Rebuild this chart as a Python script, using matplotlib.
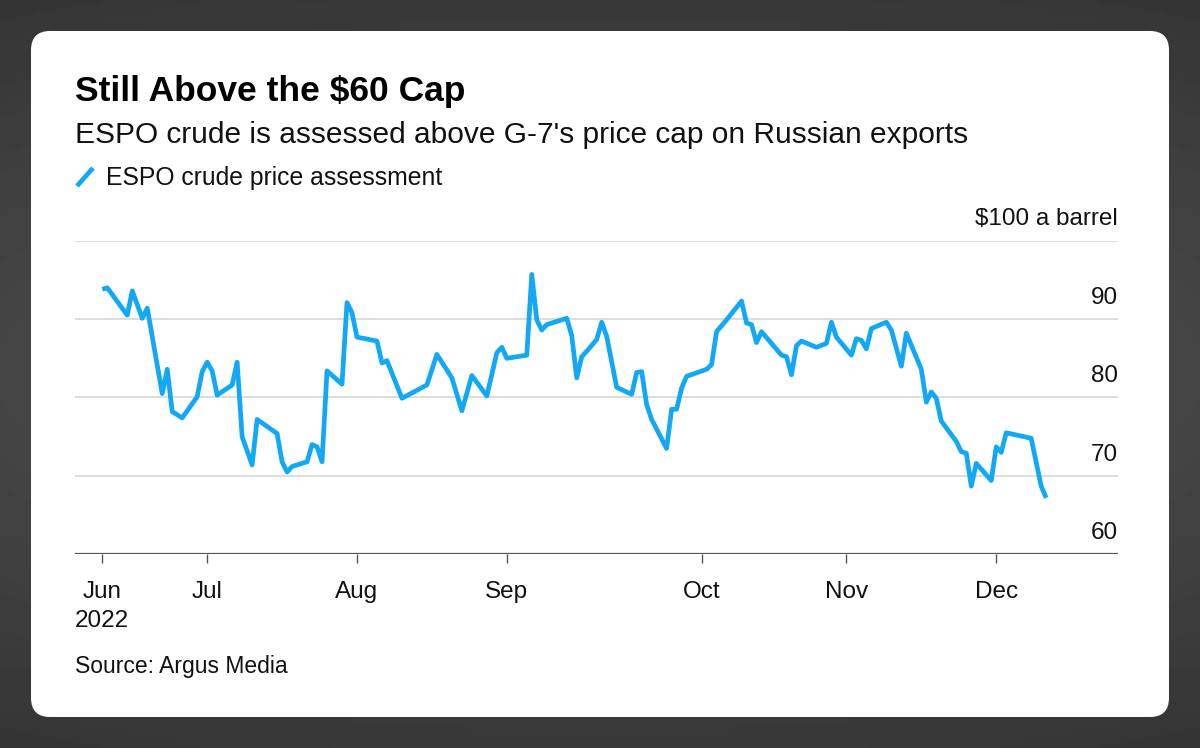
import matplotlib
matplotlib.use('Agg')
import matplotlib.pyplot as plt
from matplotlib.patches import FancyBboxPatch
from matplotlib.lines import Line2D
import numpy as np

plt.rcParams['font.family'] = ['Liberation Sans', 'DejaVu Sans']

# observation number (roughly one step per assessment) and price, $ a barrel
obs = [0, 1, 5, 6, 8, 9, 12, 13, 14, 16, 19, 20, 21, 22, 23, 26, 27, 28, 30, 31,
       35, 36, 37, 38, 41, 42, 43, 44, 45, 48, 49, 50, 51, 55, 56, 57, 60, 65, 67, 70,
       72, 74, 77, 79, 80, 81, 85, 86, 87, 88, 89, 93, 94, 95, 96, 97, 99, 100, 101, 103,
       106, 107, 108, 109, 110, 113, 114, 115, 116, 117, 121, 122, 123, 125, 128, 129, 130, 131, 132, 136,
       137, 138, 139, 140, 143, 145, 146, 147, 150, 151, 152, 153, 154, 157, 158, 160, 161, 164, 165, 166,
       167, 168, 171, 172, 173, 174, 175, 178, 179, 180, 181, 186, 188, 189]
price = [93.8, 94.0, 90.5, 93.6, 90.1, 91.4, 80.5, 83.6, 78.2, 77.4, 80.1, 83.3, 84.5, 83.4, 80.3, 81.6, 84.5, 75.0, 71.4, 77.2,
         75.4, 71.8, 70.5, 71.2, 71.8, 74.0, 73.7, 71.8, 83.4, 81.7, 92.1, 90.8, 87.7, 87.2, 84.4, 84.7, 79.9, 81.6, 85.5, 82.5,
         78.3, 82.8, 80.2, 85.7, 86.4, 85.0, 85.4, 95.7, 89.9, 88.6, 89.3, 90.1, 87.9, 82.5, 85.2, 85.9, 87.4, 89.6, 87.8, 81.3,
         80.4, 83.2, 83.3, 79.1, 77.2, 73.5, 78.5, 78.5, 81.2, 82.7, 83.6, 84.2, 88.4, 89.9, 92.3, 89.5, 89.3, 87.0, 88.4, 85.4,
         85.2, 82.9, 86.6, 87.2, 86.4, 86.9, 89.6, 87.7, 85.4, 87.5, 87.3, 86.2, 88.8, 89.6, 88.6, 84.0, 88.2, 83.6, 79.4, 80.7,
         79.9, 77.0, 74.4, 73.1, 72.9, 68.7, 71.6, 69.4, 73.7, 73.0, 75.5, 74.8, 68.7, 67.2]

month_ticks = [0, 21, 51, 81, 120, 149, 179]
month_labels = ['Jun\n2022', 'Jul', 'Aug', 'Sep', 'Oct', 'Nov', 'Dec']
y_ticks = [60, 70, 80, 90, 100]
y_labels = ['60', '70', '80', '90', '$100 a barrel']

W, H = 1200, 748
blue = '#13a8f5'


def fy(px):
    return 1 - px / H


fig = plt.figure(figsize=(W / 100, H / 100), dpi=100)

# dark backdrop with a soft gradient
bg = fig.add_axes([0, 0, 1, 1], zorder=-2)
yy, xx = np.mgrid[0:1:200j, 0:1:300j]
grad = 0.33 - 0.12 * np.sqrt(((xx - 0.5) * 1.0) ** 2 + ((yy - 0.5) * 1.8) ** 2)
bg.imshow(grad, cmap='gray', vmin=0, vmax=1, aspect='auto', extent=[0, 1, 0, 1])
bg.axis('off')

card = FancyBboxPatch((31 / W, fy(717)), (1169 - 31) / W, (717 - 31) / H,
                      boxstyle='round,pad=0,rounding_size=0.016',
                      transform=fig.transFigure, facecolor='white', edgecolor='none', zorder=-1,
                      mutation_aspect=W / H)
fig.patches.append(card)

left, right = 75, 1118
top, bottom = 240.7, 554.3
ax = fig.add_axes([left / W, fy(bottom), (right - left) / W, (bottom - top) / H])
ax.set_facecolor('none')

ax.plot(obs, price, color=blue, lw=3.4, solid_joinstyle='round', solid_capstyle='butt', zorder=3)

ax.set_xlim((left - 102.3) / 4.994, (right - 102.3) / 4.994)
ax.set_ylim(60, 100)

for v in y_ticks[1:]:
    ax.axhline(v, color='#dddddd', lw=1.4, zorder=1)
ax.axhline(60, color='#555555', lw=1.6, zorder=2)

for v, lab in zip(y_ticks, y_labels):
    ax.annotate(lab, xy=(1, v), xycoords=('axes fraction', 'data'), xytext=(0, 11),
                textcoords='offset points', ha='right', va='baseline', fontsize=17.5, color='#111111')

for s in ax.spines.values():
    s.set_visible(False)
ax.set_yticks([])
ax.set_xticks(month_ticks)
ax.set_xticklabels(month_labels, fontsize=17.5, color='#111111', linespacing=1.4)
ax.tick_params(axis='x', length=6.5, width=1, color='#555555', pad=13)
for t in ax.get_xticklabels():
    t.set_verticalalignment('top')

fig.text(75 / W, fy(92), 'Still Above the $60 Cap', fontsize=25.5, fontweight='bold',
         va='center', ha='left', color='#000000')
fig.text(75 / W, fy(135), "ESPO crude is assessed above G-7's price cap on Russian exports",
         fontsize=21.5, va='center', ha='left', color='#111111')
fig.lines.append(Line2D([77 / W, 93 / W], [fy(186), fy(168)], transform=fig.transFigure,
                        color=blue, lw=3.4, solid_capstyle='butt'))
fig.text(106 / W, fy(178), 'ESPO crude price assessment', fontsize=17.8, va='center', ha='left', color='#111111')
fig.text(75 / W, fy(666), 'Source: Argus Media', fontsize=16.5, va='center', ha='left', color='#111111')

fig.savefig('out.png', dpi=100)
